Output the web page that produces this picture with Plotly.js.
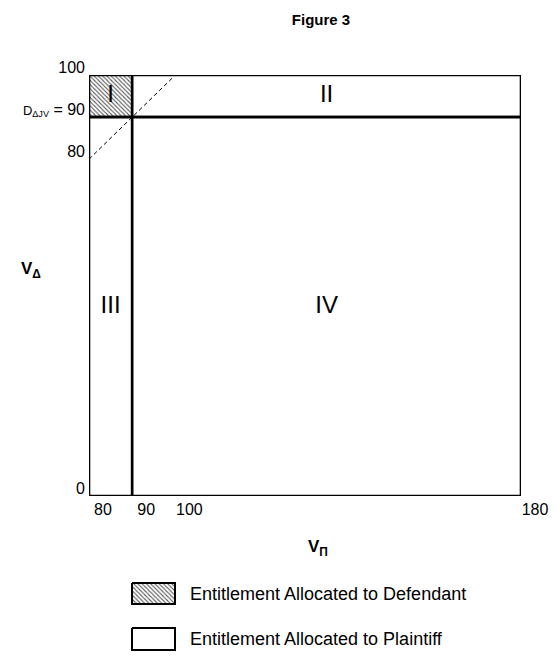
<!DOCTYPE html>
<html>
<head>
<meta charset="utf-8">
<script src="https://cdn.plot.ly/plotly-3.0.1.min.js"></script>
<style>html,body{margin:0;padding:0;background:#fff;}#chart{width:555px;height:656px;}</style>
</head>
<body>
<div id="chart"></div>
<script>
// ---- data ----
const xBounds = [80, 90, 180];          // V_Pi boundaries
const yBounds = [0, 90, 100];           // V_Delta boundaries
const regionNames = ['I', 'II', 'III', 'IV'];
const regionX = [[80, 90], [90, 180], [80, 90], [90, 180]];
const regionY = [[90, 100], [90, 100], [0, 90], [0, 90]];
const regionHatched = [true, false, false, false];
const diagX = [80, 99.5];
const diagY = [80, 99.5];
const xTickVals = [80, 90, 100, 180];
const xTickText = ['80', '90', '100', '180'];
const yTickVals = [0, 80, 90, 100];
const yTickText = ['0', '80', '<span style="font-size:13px">D<sub>ΔJV</sub></span> = 90', '100'];
const legendLabels = ['Entitlement Allocated to Defendant', 'Entitlement Allocated to Plaintiff'];

const FONT = 'Arial, "Liberation Sans", sans-serif';
const hatch = {shape: '\\', size: 3, solidity: 0.35, fgcolor: '#555', bgcolor: '#fff'};

const traces = [];
regionNames.forEach((n, i) => {
  const [x0, x1] = regionX[i], [y0, y1] = regionY[i];
  const t = {
    x: [x0, x1, x1, x0, x0], y: [y0, y0, y1, y1, y0],
    mode: 'lines', fill: 'toself', fillcolor: '#fff',
    line: {color: '#000', width: 2.6}, hoverinfo: 'skip', showlegend: false,
    xaxis: 'x', yaxis: 'y'
  };
  if (regionHatched[i]) t.fillpattern = hatch;
  traces.push(t);
});
traces.push({
  x: diagX, y: diagY, mode: 'lines', line: {color: '#000', width: 1, dash: '4px,3px'},
  hoverinfo: 'skip', showlegend: false
});
traces.push({
  x: regionX.map(r => (r[0] + r[1]) / 2),
  y: regionY.map(r => (r[0] + r[1]) / 2),
  text: regionNames, mode: 'text', textposition: 'middle center',
  textfont: {family: FONT, size: 24, color: '#000'}, hoverinfo: 'skip', showlegend: false
});

// legend swatches in a pixel-like helper axis
const sw = [[583, 604], [628, 650]];
legendLabels.forEach((lab, i) => {
  const t = {
    x: [132, 175, 175, 132, 132], y: [sw[i][0], sw[i][0], sw[i][1], sw[i][1], sw[i][0]],
    mode: 'lines', fill: 'toself', fillcolor: '#fff',
    line: {color: '#000', width: 2}, hoverinfo: 'skip', showlegend: false,
    xaxis: 'x2', yaxis: 'y2'
  };
  if (i === 0) t.fillpattern = hatch;
  traces.push(t);
});

const H = 656, T = 75, B = 0, plotH = H - T - B;
const mainBottom = (H - B - 496) / plotH;
const legTop = (H - B - 556) / plotH;

const layout = {
  width: 555, height: 656,
  margin: {l: 89, r: 34, t: T, b: B},
  paper_bgcolor: '#fff', plot_bgcolor: 'rgba(0,0,0,0)',
  font: {family: FONT, size: 16, color: '#000'},
  title: {text: '<b>Figure 3</b>', font: {family: FONT, size: 15, color: '#000'},
          xref: 'paper', x: (321 - 89) / 432, xanchor: 'center', yref: 'container', y: 1 - 20 / 656, yanchor: 'middle'},
  showlegend: false,
  xaxis: {domain: [0, 1], range: [80, 180], showgrid: false, zeroline: false, showline: false,
          tickmode: 'array', tickvals: xTickVals, ticktext: xTickText, ticks: '',
          ticklabelshift: 14, ticklabelstandoff: 2, tickfont: {size: 16}, anchor: 'y', fixedrange: true},
  yaxis: {domain: [mainBottom, 1], range: [0, 100], showgrid: false, zeroline: false, showline: false,
          tickmode: 'array', tickvals: yTickVals, ticktext: yTickText, ticks: '',
          ticklabelshift: -8, ticklabelstandoff: 3, tickfont: {size: 16}, anchor: 'x', fixedrange: true},
  xaxis2: {domain: [0, 1], range: [89, 521], visible: false, anchor: 'y2', fixedrange: true},
  yaxis2: {domain: [0, legTop], range: [656, 556], visible: false, anchor: 'x2', fixedrange: true},
  annotations: [
    {text: '<b>V<sub>Δ</sub></b>', xref: 'paper', yref: 'paper', x: 0, xshift: -58, xanchor: 'center',
     y: (H - B - 270) / plotH, yanchor: 'middle', showarrow: false, font: {size: 17}},
    {text: '<b>V<sub>Π</sub></b>', xref: 'paper', yref: 'paper', x: (318 - 89) / 432, xanchor: 'center',
     y: (H - B - 548) / plotH, yanchor: 'middle', showarrow: false, font: {size: 17}},
    {text: legendLabels[0], xref: 'x2', yref: 'y2', x: 188, y: 594, xanchor: 'left', yanchor: 'middle',
     showarrow: false, font: {size: 18}},
    {text: legendLabels[1], xref: 'x2', yref: 'y2', x: 188, y: 639, xanchor: 'left', yanchor: 'middle',
     showarrow: false, font: {size: 18}}
  ]
};

Plotly.newPlot('chart', traces, layout, {displayModeBar: false, staticPlot: true});
</script>
</body>
</html>
